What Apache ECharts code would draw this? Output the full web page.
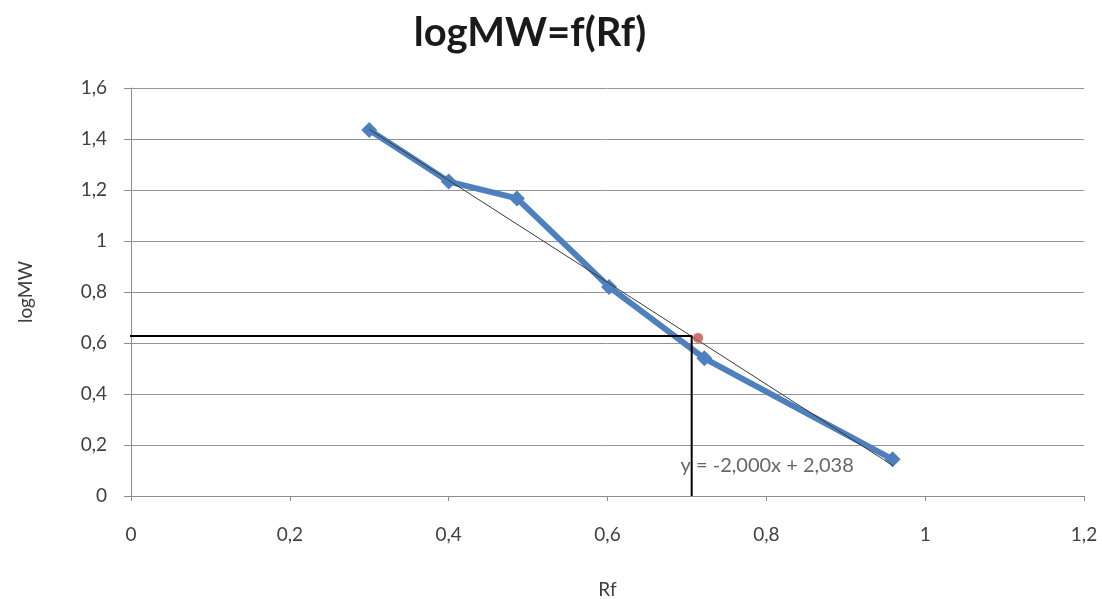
<!DOCTYPE html>
<html><head><meta charset="utf-8">
<script src="https://cdn.jsdelivr.net/npm/echarts@6/dist/echarts.min.js"></script>
<style>html,body{margin:0;padding:0;background:#fff}#c{width:1102px;height:599px}</style>
</head><body><div id="c"></div>
<script>
var rf = [0.300, 0.400, 0.486, 0.602, 0.722, 0.959];
var logMW = [1.435, 1.233, 1.167, 0.820, 0.540, 0.144];
var trendX = [0.300, 0.960];
var trendY = [1.438, 0.118];
var guideX = [-0.015, 0.706, 0.706];
var guideY = [0.627, 0.627, 0];
var markX = [0.714];
var markY = [0.620];
var eqText = 'y = -2,000x + 2,038';
var eqPos = [0.692, 0.118];
var FONT = 'Lato, "Open Sans", sans-serif';
function fmt(v){ return (Math.round(v*10)/10).toString().replace('.', ','); }
function pairs(a,b){ return a.map(function(v,i){return [v,b[i]];}); }
var chart = echarts.init(document.getElementById('c'));
chart.setOption({
  animation:false,
  title:{text:'logMW=f(Rf)', left:525, top:8, textAlign:'center',
    textStyle:{fontFamily:FONT, fontSize:40, fontWeight:'bold', color:'#1a1a1a'}},
  grid:{left:131, right:18, top:88, bottom:103, containLabel:false, outerBoundsMode:'none'},
  xAxis:{type:'value', min:0, max:1.2, interval:0.2,
    name:'Rf', nameLocation:'middle', nameGap:84,
    nameTextStyle:{fontFamily:FONT, fontSize:19, color:'#404040'},
    axisLine:{show:true, lineStyle:{color:'#8c8c8c', width:1}},
    axisTick:{show:true, length:5, lineStyle:{color:'#8c8c8c'}},
    splitLine:{show:false},
    axisLabel:{formatter:fmt, margin:29, fontFamily:FONT, fontSize:19, color:'#404040'}},
  yAxis:{type:'value', min:0, max:1.6, interval:0.2,
    name:'logMW', nameLocation:'middle', nameGap:96, nameRotate:90,
    nameTextStyle:{fontFamily:FONT, fontSize:19, color:'#404040'},
    axisLine:{show:true, lineStyle:{color:'#8c8c8c', width:1}},
    axisTick:{show:true, length:7, lineStyle:{color:'#8c8c8c'}},
    splitLine:{show:true, lineStyle:{color:'#949494', width:1}},
    axisLabel:{formatter:fmt, margin:24, fontFamily:FONT, fontSize:19, color:'#404040'}},
  series:[
    {type:'line', data:pairs(rf, logMW), symbol:'diamond', symbolSize:16,
      lineStyle:{color:'#4d80bd', width:6}, itemStyle:{color:'#4d80bd'}, z:2},
    {type:'line', data:pairs(trendX, trendY), symbol:'none',
      lineStyle:{color:'#3a3a3a', width:1}, z:3},
    {type:'line', data:pairs(guideX, guideY), symbol:'none', clip:false,
      lineStyle:{color:'#000', width:2}, z:4},
    {type:'scatter', data:pairs(markX, markY), symbolSize:10,
      itemStyle:{color:'#c0504d'}, z:5},
    {type:'scatter', data:[eqPos], symbolSize:0, z:6,
      label:{show:true, position:'right', distance:0, formatter:eqText,
        fontFamily:FONT, fontSize:20, color:'#404040'}}
  ]
});
</script></body></html>
